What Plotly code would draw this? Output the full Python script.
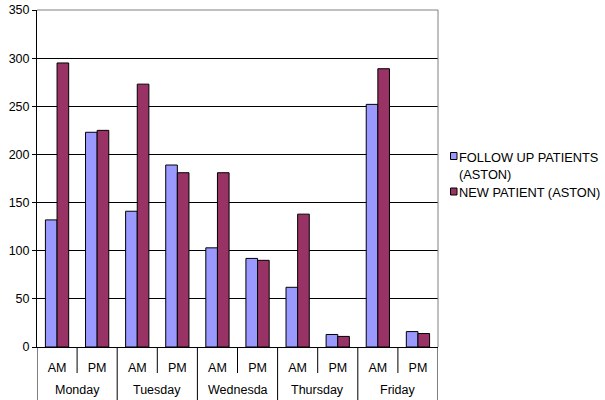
import plotly.graph_objects as go

# Clinic attendance by weekday session
days = ["Monday", "Tuesday", "Wednesda", "Thursday", "Friday"]
sessions = ["AM", "PM"]
follow_up = [132, 223, 141, 189, 103, 92, 62, 13, 252, 16]
new_patient = [295, 225, 273, 181, 181, 90, 138, 11, 289, 14]

series_names = ["FOLLOW UP PATIENTS<br>(ASTON)", "NEW PATIENT (ASTON)"]
series_colors = ["#9999FF", "#993366"]
y_ticks = [0, 50, 100, 150, 200, 250, 300, 350]

# one category per (day, session) slot
slot_ids = [f"{d} {s}" for d in days for s in sessions]
slot_text = [s for d in days for s in sessions]

W, H = 605, 400
ML, MT, MB = 37, 10, 53
PLOT_W = 401
PLOT_H = H - MT - MB
PAPER_W = W - ML


def px_x(p):
    return (p - ML) / PAPER_W


def px_y(p):
    return (H - MB - p) / PLOT_H


fig = go.Figure()
for name, vals, col in zip(series_names, [follow_up, new_patient], series_colors):
    fig.add_bar(x=slot_ids, y=vals, name=name, showlegend=False,
                marker=dict(color=col, line=dict(color="#000000", width=1)))

fig.update_layout(
    width=W, height=H,
    margin=dict(l=ML, r=0, t=MT, b=MB, pad=0),
    paper_bgcolor="white", plot_bgcolor="white",
    barmode="group", bargap=0.42, bargroupgap=0,
    font=dict(family="Liberation Sans, Arial, sans-serif", size=12.5, color="#000"),
)
fig.update_xaxes(
    type="category", categoryorder="array", categoryarray=slot_ids,
    domain=[0, PLOT_W / PAPER_W], range=[-0.5, len(slot_ids) - 0.5],
    tickvals=slot_ids, ticktext=slot_text,
    ticks="outside", ticklen=9, tickcolor="rgba(0,0,0,0)",
    showline=True, linecolor="#000", linewidth=1,
    showgrid=False, automargin=False,
)
fig.update_yaxes(
    range=[0, 350], tickvals=y_ticks, showline=True, linecolor="#000",
    linewidth=1, ticks="outside", ticklen=4, tickcolor="#000",
    showgrid=True, gridcolor="#000", gridwidth=1, zeroline=False,
    automargin=False,
)

# light frame along the top and right of the plot area
fig.add_shape(type="line", xref="x domain", yref="paper", x0=0, x1=1, y0=1, y1=1,
              line=dict(color="#808080", width=1))
fig.add_shape(type="line", xref="x domain", yref="paper", x0=1, x1=1, y0=0, y1=1,
              line=dict(color="#808080", width=1))

# separators below the axis: short ones between sessions, long ones between days
n_sess = len(sessions)
for i in range(len(slot_ids) + 1):
    b = i - 0.5
    is_day_edge = i % n_sess == 0
    fig.add_shape(type="line", xref="x", yref="paper", x0=b, x1=b,
                  y0=0, y1=px_y(373) if not is_day_edge else px_y(400),
                  line=dict(color="#000", width=1))

# day labels centred under their pair of sessions
for k, d in enumerate(days):
    fig.add_annotation(x=k * n_sess + (n_sess - 1) / 2, xref="x",
                       y=px_y(390), yref="paper", text=d, showarrow=False,
                       xanchor="center", yanchor="middle",
                       font=dict(size=12.5))

# legend: small outlined swatches with text
legend_rows = [156, 191.5]
for name, col, yc in zip(series_names, series_colors, legend_rows):
    fig.add_shape(type="rect", xref="paper", yref="paper",
                  x0=px_x(450.5), x1=px_x(457), y0=px_y(yc - 3.5), y1=px_y(yc + 3.5),
                  fillcolor=col, line=dict(color="#000", width=1))
    fig.add_annotation(x=px_x(458), xref="paper", y=px_y(yc - 7.5), yref="paper",
                       text=name, showarrow=False, xanchor="left", yanchor="top",
                       align="left", font=dict(size=12.8), borderpad=0)

fig.write_html("out.html")
